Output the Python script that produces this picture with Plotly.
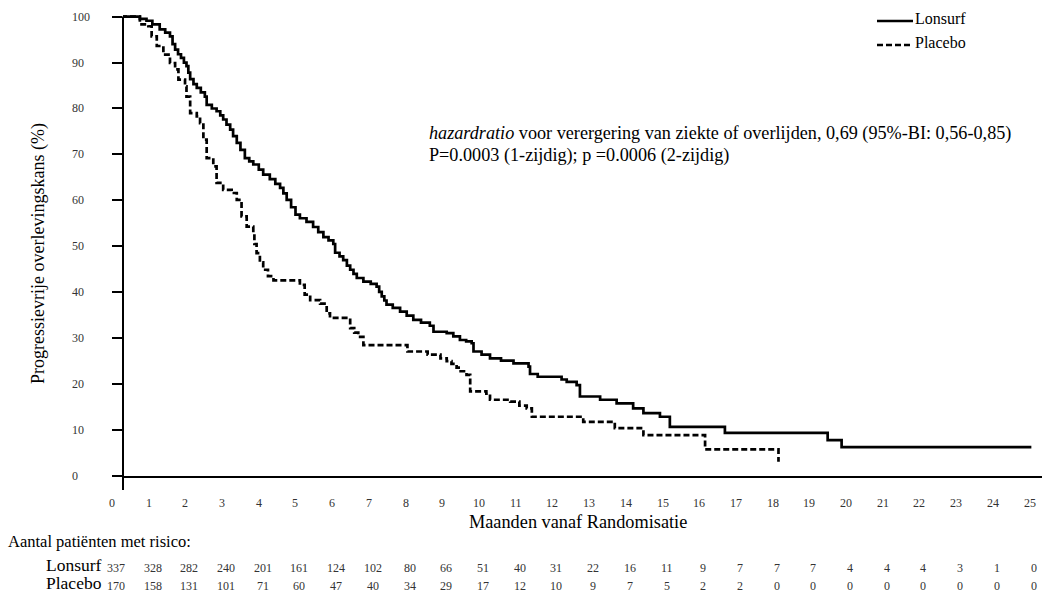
import plotly.graph_objects as go

# ---------------- data ----------------
x_tick_labels = list(range(0, 26))
y_tick_labels = list(range(0, 101, 10))

lonsurf_t = [0, 0.76, 0.94, 1.1, 1.3, 1.45, 1.58, 1.65, 1.72, 1.8, 1.88, 1.96, 2.03, 2.08, 2.13,
             2.22, 2.31, 2.42, 2.53, 2.58, 2.72, 2.85, 2.95, 3.03, 3.12, 3.22, 3.3, 3.4, 3.5,
             3.62, 3.74, 3.85, 4.0, 4.12, 4.3, 4.45, 4.58, 4.67, 4.76, 4.88, 5.0, 5.12, 5.3,
             5.48, 5.62, 5.76, 5.9, 6.03, 6.08, 6.2, 6.3, 6.4, 6.49, 6.58, 6.67, 6.85, 7.05,
             7.21, 7.28, 7.35, 7.42, 7.48, 7.65, 7.85, 8.03, 8.21, 8.42, 8.66, 8.76, 9.12, 9.3,
             9.48, 9.65, 9.8, 9.85, 10.07, 10.3, 10.6, 10.94, 11.35, 11.39, 11.6, 12.25, 12.39,
             12.66, 12.75, 13.3, 13.75, 14.2, 14.48, 14.93, 15.2, 16.7, 19.5, 19.88, 25.05]
lonsurf_s = [100, 99.5, 99.1, 98.3, 97.2, 96.5, 95.7, 94.0, 92.8, 91.8, 91.0, 90.0, 89.2, 87.8, 86.4,
             85.3, 84.5, 83.5, 82.6, 80.8, 80.0, 79.4, 78.5, 77.6, 76.5, 75.4, 74.0, 72.5, 71.0,
             69.2, 68.5, 67.8, 66.7, 65.6, 64.6, 63.6, 62.7, 61.5, 60.1, 58.5, 56.9, 56.1, 55.3,
             54.2, 53.1, 52.0, 51.3, 50.5, 48.6, 47.8, 47.0, 45.8, 44.9, 44.0, 43.1, 42.3, 41.8,
             41.2, 40.1, 39.1, 38.2, 37.3, 36.6, 35.8, 34.9, 34.0, 33.4, 32.7, 31.4, 31.1, 30.4,
             29.6, 29.3, 28.9, 27.1, 26.4, 25.6, 25.1, 24.5, 23.8, 22.2, 21.6, 21.0, 20.5,
             19.8, 17.3, 16.6, 15.8, 14.7, 13.7, 12.9, 10.7, 9.4, 7.8, 6.3, 6.3]

placebo_t = [0, 0.76, 0.99, 1.08, 1.22, 1.4, 1.58, 1.72, 1.81, 1.99, 2.03, 2.13, 2.31, 2.4, 2.49,
             2.58, 2.76, 2.85, 3.03, 3.26, 3.4, 3.53, 3.67, 3.85, 3.88, 3.94, 4.03, 4.12, 4.25,
             4.4, 5.12, 5.25, 5.4, 5.67, 5.85, 5.94, 6.49, 6.6, 6.71, 6.85, 8.05, 8.6, 8.95,
             9.12, 9.25, 9.39, 9.5, 9.66, 9.76, 10.2, 10.3, 10.85, 11.1, 11.3, 11.44, 12.84,
             13.7, 14.48, 16.16, 18.16]
placebo_s = [100, 98.3, 97.9, 95.7, 93.6, 91.7, 89.9, 88.5, 86.3, 84.8, 82.6, 79.0, 78.3, 76.8, 73.2,
             69.2, 67.4, 63.8, 62.3, 61.6, 60.1, 56.5, 54.3, 52.9, 50.5, 48.5, 46.5, 44.9, 43.5,
             42.6, 41.6, 39.5, 38.3, 37.5, 35.4, 34.4, 32.2, 31.2, 30.3, 28.5, 27.1, 26.4, 25.6,
             25.0, 24.4, 23.6, 22.8, 22.0, 18.4, 17.9, 16.6, 16.2, 15.3, 14.7, 12.9, 11.8,
             10.4, 8.9, 5.8, 3.1]

risk_lonsurf = [337, 328, 282, 240, 201, 161, 124, 102, 80, 66, 51, 40, 31, 22, 16, 11, 9, 7, 7, 7, 4, 4, 4, 3, 1, 0]
risk_placebo = [170, 158, 131, 101, 71, 60, 47, 40, 34, 29, 17, 12, 10, 9, 7, 5, 2, 2, 0, 0, 0, 0, 0, 0, 0, 0]

series_names = ["Lonsurf", "Placebo"]
x_title = "Maanden vanaf Randomisatie"
y_title = "Progressievrije overlevingskans (%)"
risk_title = "Aantal patiënten met risico:"
hr_line1 = "<i>hazardratio</i> voor verergering van ziekte of overlijden, 0,69 (95%-BI: 0,56-0,85)"
hr_line2 = "P=0.0003 (1-zijdig); p =0.0006 (2-zijdig)"

# ---------------- layout constants ----------------
W, H = 1043, 601
ML, MR, MT, MB = 123, 1, 12, 125
X_RANGE = [0.3, 25.34]
Y_RANGE = [0, 101]
PLOT_H = H - MT - MB
PLOT_W = W - ML - MR
FONT = "Liberation Serif"


def xp(m):
    return (m - X_RANGE[0]) / (X_RANGE[1] - X_RANGE[0])


def yp(v):
    return (v - Y_RANGE[0]) / (Y_RANGE[1] - Y_RANGE[0])


fig = go.Figure()
fig.add_trace(go.Scatter(x=placebo_t, y=placebo_s, mode="lines", name=series_names[1],
                         line=dict(shape="hv", color="black", width=2.7, dash="6px,3px"),
                         showlegend=False))
fig.add_trace(go.Scatter(x=lonsurf_t, y=lonsurf_s, mode="lines", name=series_names[0],
                         line=dict(shape="hv", color="black", width=2.7),
                         showlegend=False))

ann = []
shapes = []

# y-axis line (with small extension below x axis)
shapes.append(dict(type="line", xref="paper", yref="paper", x0=0, x1=0,
                   y0=-14 / PLOT_H, y1=yp(100), line=dict(color="black", width=2)))

# y tick labels (left aligned as in the reference)
for v in y_tick_labels:
    ann.append(dict(xref="paper", yref="paper", x=0, y=yp(v), xshift=-53, xanchor="left",
                    yanchor="middle", text=str(v), showarrow=False,
                    font=dict(family=FONT, size=12, color="#333")))

# x tick labels
for m in x_tick_labels:
    ann.append(dict(xref="paper", yref="paper", x=xp(m), y=0, yshift=-27, xanchor="center",
                    yanchor="middle", text=str(m), showarrow=False,
                    font=dict(family=FONT, size=12, color="#333")))

# axis titles
ann.append(dict(xref="paper", yref="paper", x=0, xshift=-85, y=(476 - 254) / PLOT_H,
                xanchor="center", yanchor="middle", textangle=-90, text=y_title,
                showarrow=False, font=dict(family=FONT, size=18, color="black")))
ann.append(dict(xref="paper", yref="paper", x=(578 - ML) / PLOT_W, y=0, yshift=-46,
                xanchor="center", yanchor="middle", text=x_title,
                showarrow=False, font=dict(family=FONT, size=18.3, color="black")))

# hazard ratio text
ann.append(dict(xref="paper", yref="paper", x=(427 - ML) / PLOT_W, y=(476 - 133) / PLOT_H,
                xanchor="left", yanchor="middle", text=hr_line1, showarrow=False,
                font=dict(family=FONT, size=18.2, color="black")))
ann.append(dict(xref="paper", yref="paper", x=(427 - ML) / PLOT_W, y=(476 - 155) / PLOT_H,
                xanchor="left", yanchor="middle", text=hr_line2, showarrow=False,
                font=dict(family=FONT, size=18.2, color="black")))

# legend
leg_y = [21, 45]
leg_text_y = [18, 42]
for i, name in enumerate(series_names):
    shapes.append(dict(type="line", xref="paper", yref="paper",
                       x0=(877 - ML) / PLOT_W, x1=(913 - ML) / PLOT_W,
                       y0=(476 - leg_y[i]) / PLOT_H, y1=(476 - leg_y[i]) / PLOT_H,
                       line=dict(color="black", width=2.5, dash=None if i == 0 else "6px,3px")))
    ann.append(dict(xref="paper", yref="paper", x=(913 - ML) / PLOT_W,
                    y=(476 - leg_text_y[i]) / PLOT_H, xanchor="left", yanchor="middle",
                    text=name, showarrow=False, font=dict(family=FONT, size=16, color="black")))

# risk table
ann.append(dict(xref="paper", yref="paper", x=0, xshift=-117, y=0, yshift=-65,
                xanchor="left", yanchor="middle", text=risk_title, showarrow=False,
                font=dict(family=FONT, size=16.5, color="black")))
row_label_shift = [-89, -107]
row_num_shift = [-92, -110]
for i, (name, row) in enumerate(zip(series_names, [risk_lonsurf, risk_placebo])):
    ann.append(dict(xref="paper", yref="paper", x=0, xshift=-79, y=0, yshift=row_label_shift[i],
                    xanchor="left", yanchor="middle", text=name, showarrow=False,
                    font=dict(family=FONT, size=17.5, color="black")))
    for m, n in enumerate(row):
        ann.append(dict(xref="paper", yref="paper", x=xp(m), xshift=4, y=0,
                        yshift=row_num_shift[i], xanchor="center", yanchor="middle",
                        text=str(n), showarrow=False,
                        font=dict(family=FONT, size=12, color="#333")))

fig.update_layout(
    width=W, height=H,
    margin=dict(l=ML, r=MR, t=MT, b=MB, pad=0),
    paper_bgcolor="white", plot_bgcolor="white",
    xaxis=dict(range=X_RANGE, showline=True, linecolor="black", linewidth=2,
               showticklabels=False, ticks="", showgrid=False, zeroline=False, fixedrange=True),
    yaxis=dict(range=Y_RANGE, showline=False, ticks="outside", ticklen=10, tickwidth=2,
               tickcolor="black", tickvals=y_tick_labels, showticklabels=False,
               showgrid=False, zeroline=False, fixedrange=True),
    annotations=ann, shapes=shapes,
    font=dict(family=FONT),
)

fig.write_html("out.html")
